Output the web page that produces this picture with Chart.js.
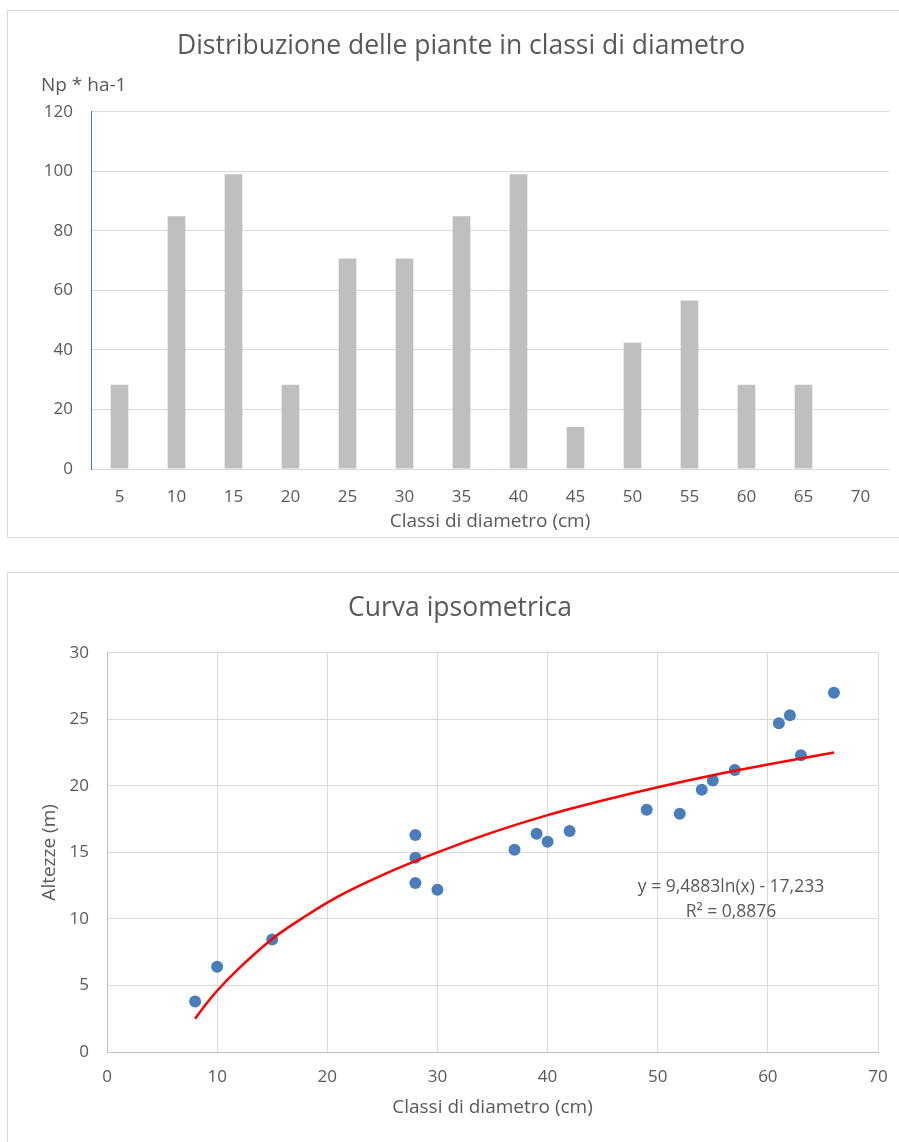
<!DOCTYPE html>
<html><head><meta charset="utf-8">
<script src="https://cdn.jsdelivr.net/npm/chart.js@4.4.1/dist/chart.umd.min.js"></script>
<style>
html,body{margin:0;padding:0;background:#fff;width:899px;height:1142px;overflow:hidden;position:relative;}
.box{position:absolute;border:1px solid #d9d9d9;box-sizing:border-box;}
canvas{position:absolute;left:0;}
</style></head><body>
<div class="box" style="left:7px;top:10px;width:930px;height:528px"></div>
<div class="box" style="left:7px;top:572px;width:930px;height:600px"></div>
<canvas id="c1" width="899" height="545" style="top:0"></canvas>
<canvas id="c2" width="899" height="582" style="top:560px"></canvas>
<script>
// ---- data: top chart ----
const barCategories = ['5','10','15','20','25','30','35','40','45','50','55','60','65','70'];
const plantsPerHa = [28.3, 84.9, 99.0, 28.3, 70.7, 70.7, 84.9, 99.0, 14.1, 42.4, 56.6, 28.3, 28.3, 0];
const barYTicks = [0, 20, 40, 60, 80, 100, 120];
// ---- data: bottom chart ----
const diameters = [8, 10, 15, 28, 28, 28, 30, 37, 39, 40, 42, 49, 52, 54, 55, 57, 61, 62, 63, 66];
const heights   = [3.8, 6.4, 8.45, 16.3, 14.6, 12.7, 12.2, 15.2, 16.4, 15.8, 16.6, 18.2, 17.9, 19.7, 20.4, 21.2, 24.7, 25.3, 22.3, 27.0];
const trendX = [8, 9, 10, 12, 15, 18, 21, 25, 30, 35, 40, 45, 50, 55, 60, 66];
const trendY = [2.5, 3.6, 4.6, 6.3, 8.5, 10.2, 11.7, 13.3, 15.0, 16.5, 17.8, 18.9, 19.9, 20.8, 21.6, 22.5];
const scatterXTicks = [0, 10, 20, 30, 40, 50, 60, 70];
const scatterYTicks = [0, 5, 10, 15, 20, 25, 30];
const eqLine1 = 'y = 9,4883ln(x) - 17,233';
const eqLine2 = 'R\u00B2 = 0,8876';

const FONT = '"Open Sans", "Noto Sans", sans-serif';
const TXT = '#595959';
const GRID = '#d9d9d9';

const npLabel = {
  id: 'npLabel',
  afterDraw(chart) {
    const ctx = chart.ctx;
    ctx.save();
    ctx.font = '19px ' + FONT;
    ctx.fillStyle = TXT;
    ctx.textAlign = 'left';
    ctx.textBaseline = 'middle';
    ctx.fillText('Np * ha-1', 41, 86);
    ctx.restore();
  }
};

function noPad(s) { s.paddingLeft = 0; s.paddingRight = 0; s.paddingTop = 0; s.paddingBottom = 0; }

new Chart(document.getElementById('c1'), {
  type: 'bar',
  data: {
    labels: barCategories,
    datasets: [{
      data: plantsPerHa,
      backgroundColor: '#bfbfbf',
      borderWidth: 0,
      barPercentage: 0.31,
      categoryPercentage: 1
    }]
  },
  plugins: [npLabel],
  options: {
    responsive: false,
    animation: false,
    devicePixelRatio: 1,
    layout: { padding: { left: 33, right: 10, top: 10, bottom: 8 } },
    plugins: {
      legend: { display: false },
      tooltip: { enabled: false },
      title: {
        display: true,
        text: 'Distribuzione delle piante in classi di diametro',
        color: TXT,
        font: { family: FONT, size: 26.5, weight: '400' },
        padding: { top: 21, bottom: 49 }
      }
    },
    scales: {
      x: {
        grid: { display: false, drawTicks: false },
        border: { display: true, color: GRID, width: 1 },
        ticks: { color: TXT, font: { family: FONT, size: 17 }, padding: 17.5 },
        title: {
          display: true, text: 'Classi di diametro (cm)', color: TXT,
          font: { family: FONT, size: 19 }, padding: { top: 0, bottom: 3.6 }
        },
        afterFit: s => { s.height = 68; noPad(s); }
      },
      y: {
        min: 0, max: 120,
        afterBuildTicks: s => { s.ticks = barYTicks.map(v => ({ value: v })); },
        grid: { color: GRID, drawTicks: false, lineWidth: 1 },
        border: { display: true, color: '#4472c4', width: 1 },
        ticks: { color: TXT, font: { family: FONT, size: 17 }, padding: 18 },
        afterFit: s => { s.width = 58; noPad(s); }
      }
    }
  }
});

const eqPlugin = {
  id: 'eqLabel',
  afterDatasetsDraw(chart) {
    const ctx = chart.ctx;
    ctx.save();
    ctx.font = '17.5px ' + FONT;
    ctx.fillStyle = TXT;
    ctx.textAlign = 'center';
    ctx.textBaseline = 'middle';
    ctx.fillText(eqLine1, 731, 327);
    ctx.fillText(eqLine2, 731, 352);
    ctx.restore();
  }
};

new Chart(document.getElementById('c2'), {
  type: 'scatter',
  data: {
    datasets: [
      {
        type: 'line',
        order: 0,
        data: trendX.map((x, i) => ({ x: x, y: trendY[i] })),
        borderColor: '#ff0000',
        borderWidth: 2.5,
        pointRadius: 0,
        fill: false,
        tension: 0.4,
        cubicInterpolationMode: 'monotone'
      },
      {
        order: 1,
        data: diameters.map((x, i) => ({ x: x, y: heights[i] })),
        backgroundColor: '#4a7ebb',
        borderWidth: 0,
        pointRadius: 6
      }
    ]
  },
  plugins: [eqPlugin],
  options: {
    responsive: false,
    animation: false,
    devicePixelRatio: 1,
    layout: { padding: { left: 42, right: 21, top: 12, bottom: 20 } },
    plugins: {
      legend: { display: false },
      tooltip: { enabled: false },
      title: {
        display: true,
        text: 'Curva ipsometrica',
        color: TXT,
        font: { family: FONT, size: 26.5, weight: '400' },
        padding: { top: 21, bottom: 28 }
      }
    },
    scales: {
      x: {
        type: 'linear', min: 0, max: 70,
        afterBuildTicks: s => { s.ticks = scatterXTicks.map(v => ({ value: v })); },
        grid: { color: GRID, drawTicks: false },
        border: { display: true, color: '#bfbfbf', width: 1 },
        ticks: { color: TXT, font: { family: FONT, size: 17 }, padding: 15 },
        title: {
          display: true, text: 'Classi di diametro (cm)', color: TXT,
          font: { family: FONT, size: 19 }, padding: { top: 0, bottom: 2.6 }
        },
        afterFit: s => { s.height = 70; noPad(s); }
      },
      y: {
        min: 0, max: 30,
        afterBuildTicks: s => { s.ticks = scatterYTicks.map(v => ({ value: v })); },
        grid: { color: GRID, drawTicks: false },
        border: { display: true, color: '#bfbfbf', width: 1 },
        ticks: { color: TXT, font: { family: FONT, size: 17 }, padding: 18 },
        title: {
          display: true, text: 'Altezze (m)', color: TXT,
          font: { family: FONT, size: 19, lineHeight: 0.8 }, padding: { top: 0.4, bottom: 0 }
        },
        afterFit: s => { s.width = 65; noPad(s); }
      }
    }
  }
});
</script>
</body></html>
